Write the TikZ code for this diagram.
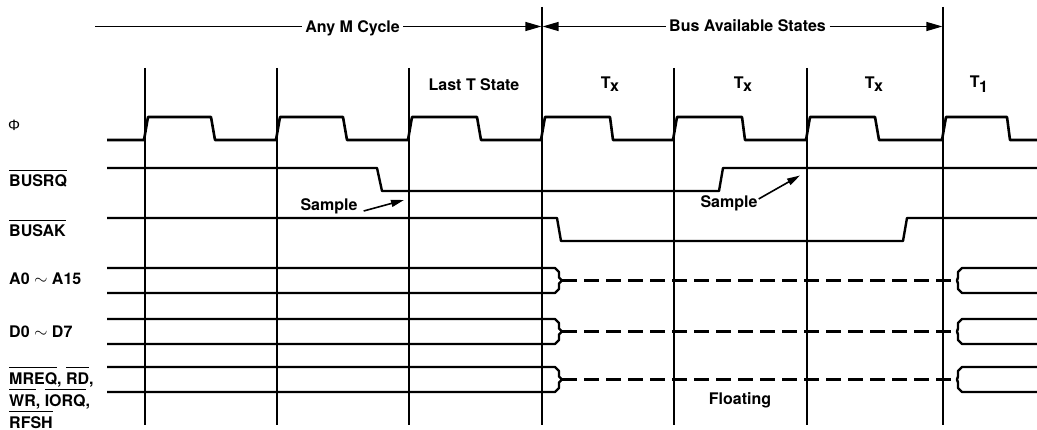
\documentclass[tikz,border=0pt]{standalone}
\usepackage{fontspec}
\setmainfont{TeX Gyre Heros}
\newfontfamily\phifont{Liberation Sans}
\usetikzlibrary{arrows.meta}
\newcommand\ovl[1]{\vbox{\hrule height 1.2pt\kern 4.3pt\hbox{#1}}}
\tikzset{
	signal/.style={line width=2.4pt, line join=round},
	floatline/.style={line width=2.4pt, dash pattern=on 15pt off 7pt},
	gridline/.style={line width=1.2pt},
	dimline/.style={line width=1.3pt},
	dimtip/.tip={Triangle[length=16pt,width=9pt]},
	samplearrow/.style={line width=1.6pt, -{Triangle[length=13pt,width=7pt]}},
	lbl/.style={font=\bfseries\fontsize{16}{22}\selectfont, inner sep=0pt},
}
\begin{document}
\begin{tikzpicture}[x=1pt,y=-1pt]
			\useasboundingbox (0,0) rectangle (1037,430);
			
			% state boundaries
			\draw[gridline] (145,68) -- (145,425);
			\draw[gridline] (277,68) -- (277,425);
			\draw[gridline] (409,68) -- (409,425);
			\draw[gridline] (542,7) -- (542,425);
			\draw[gridline] (674,68) -- (674,425);
			\draw[gridline] (807,68) -- (807,425);
			\draw[gridline] (943,7) -- (943,425);
			
			% cycle spans
			\node[lbl, anchor=base, inner xsep=3.5pt] (anym) at (352.5,32.5) {Any M Cycle};
			\node[lbl, anchor=base, inner xsep=3.5pt] (busav) at (747.5,32) {Bus Available States};
			\coordinate (mleft) at (95,26.5);
			\coordinate (mend) at (541.4,26.5);
			\coordinate (bbegin) at (542.6,26.5);
			\coordinate (bend) at (942.4,26.5);
			\draw[dimline] (mleft) -- (mleft -| anym.west);
			\draw[dimline, -dimtip] (mleft -| anym.east) -- (mend);
			\draw[dimline, dimtip-] (bbegin) -- (bbegin -| busav.west);
			\draw[dimline, -dimtip] (bbegin -| busav.east) -- (bend);
			
			\node[lbl, anchor=base] (tlast) at (474,91) {Last T State};
			\node[lbl, anchor=base] (txa) at (610,88.5) {T\kern-0.5pt\raisebox{-3.5pt}{x}};
			\node[lbl, anchor=base] (txb) at (743,88.5) {T\kern-0.5pt\raisebox{-3.5pt}{x}};
			\node[lbl, anchor=base] (txc) at (874,88.5) {T\kern-0.5pt\raisebox{-3.5pt}{x}};
			\node[lbl, anchor=base] (tone) at (979,87.5) {T\kern-0.5pt\raisebox{-5pt}{1}};
			
			% clock
			\draw[signal, line width=2.6pt] (107,140) -- (144,140) -- (148,117) -- (211,117) -- (215,140)
				-- (276,140) -- (280,117) -- (343,117) -- (347,140)
				-- (408,140) -- (412,117) -- (477,117) -- (481,140)
				-- (541,140) -- (545,117) -- (610,117) -- (613,140)
				-- (673,140) -- (677,117) -- (742,117) -- (745,140)
				-- (806,140) -- (810,117) -- (875,117) -- (879,140)
				-- (942,140) -- (946,117) -- (1007,117) -- (1010,140) -- (1037,140);
			
			% BUSRQ and BUSAK
			\draw[signal] (107,168) -- (377,168) -- (382,191) -- (719,191) -- (723,168) -- (1037,168);
			\draw[signal] (107,218) -- (557,218) -- (561,241) -- (903,241) -- (907,218) -- (1037,218);
			
			% address bus
			\draw[signal] (107,268) -- (555,268) -- (559,272) -- (559,277.5) -- (562,280.5) -- (559,283.5) -- (559,289) -- (555,293) -- (107,293);
			\draw[floatline] (562,280.5) -- (957,280.5);
			\draw[signal] (1037,268) -- (962,268) -- (958,272) -- (958,277.5) -- (957,280.5) -- (958,283.5) -- (958,289) -- (962,293) -- (1037,293);
			
			% data bus
			\draw[signal] (107,319) -- (555,319) -- (559,323) -- (559,328.5) -- (562,331.5) -- (559,334.5) -- (559,340) -- (555,344) -- (107,344);
			\draw[floatline] (562,331.5) -- (957,331.5);
			\draw[signal] (1037,319) -- (962,319) -- (958,323) -- (958,328.5) -- (957,331.5) -- (958,334.5) -- (958,340) -- (962,344) -- (1037,344);
			
			% control lines
			\draw[signal] (107,367) -- (555,367) -- (559,371) -- (559,376.5) -- (562,379.5) -- (559,382.5) -- (559,388) -- (555,392) -- (107,392);
			\draw[floatline] (562,379.5) -- (957,379.5);
			\draw[signal] (1037,367) -- (962,367) -- (958,371) -- (958,376.5) -- (957,379.5) -- (958,382.5) -- (958,388) -- (962,392) -- (1037,392);
			
			\node[lbl, anchor=base] (floating) at (740,405) {Floating};
			
			% sample points
			\node[lbl, anchor=base] (sampa) at (329,211) {Sample};
			\node[lbl, anchor=base] (sampb) at (729,208) {Sample};
			\coordinate (sampatip) at (404,200);
			\coordinate (sampbtip) at (800,175.5);
			\draw[samplearrow] ([xshift=6pt]sampa.base east) -- (sampatip);
			\draw[samplearrow] ([xshift=1pt,yshift=-3pt]sampb.north east) -- (sampbtip);
			
			% signal names
			\node[inner sep=0pt] (lphi) at (14,125) {\phifont\fontsize{15}{15}\selectfont Φ};
			\node[lbl, anchor=base west] (lbusrq) at (9,187) {\ovl{BUSRQ}};
			\node[lbl, anchor=base west] (lbusak) at (9,237) {\ovl{BUSAK}};
			\node[lbl, anchor=base west] (laddr) at (9,285) {A0 $\sim$ A15};
			\node[lbl, anchor=base west] (ldata) at (9,338) {D0 $\sim$ D7};
			\node[lbl, anchor=north west, align=left] (lctrl) at (9,366.5) {\ovl{MREQ}, \ovl{RD},\\\ovl{WR}, \ovl{IORQ},\\\ovl{R}\ovl{FSH}};
\end{tikzpicture}
\end{document}
